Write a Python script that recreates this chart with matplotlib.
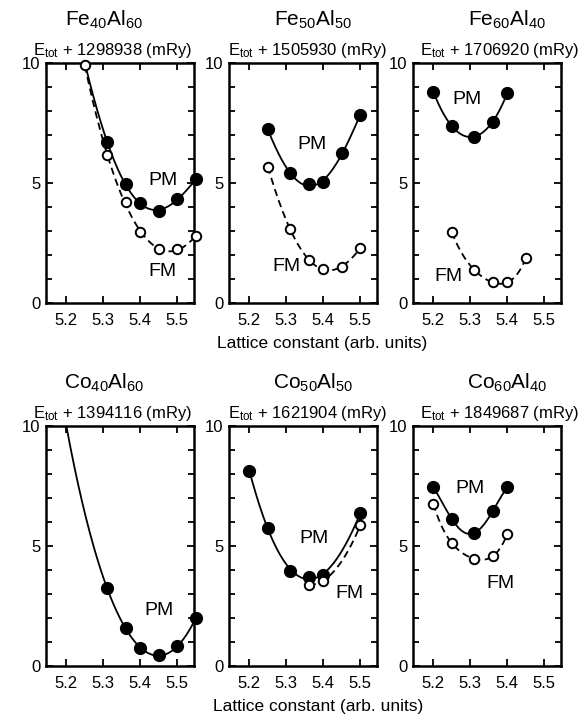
import numpy as np
import matplotlib
matplotlib.use("Agg")
import matplotlib.pyplot as plt
from matplotlib.ticker import MultipleLocator

plt.rcParams["font.family"] = ["Liberation Sans", "DejaVu Sans"]
plt.rcParams["mathtext.fontset"] = "custom"
plt.rcParams["mathtext.rm"] = "Liberation Sans"
plt.rcParams["mathtext.it"] = "Liberation Sans:italic"

# ---- data ----
titles = ["Fe$_{40}$Al$_{60}$", "Fe$_{50}$Al$_{50}$", "Fe$_{60}$Al$_{40}$",
          "Co$_{40}$Al$_{60}$", "Co$_{50}$Al$_{50}$", "Co$_{60}$Al$_{40}$"]
offsets = ["1298938", "1505930", "1706920", "1394116", "1621904", "1849687"]

# Fe40Al60
fe40_pm_x = [5.25, 5.31, 5.36, 5.40, 5.45, 5.50, 5.55]
fe40_pm_y = [10.0, 6.72, 4.94, 4.16, 3.85, 4.33, 5.15]
fe40_fm_x = [5.25, 5.31, 5.36, 5.40, 5.45, 5.50, 5.55]
fe40_fm_y = [9.90, 6.16, 4.20, 2.95, 2.24, 2.24, 2.80]
# Fe50Al50
fe50_pm_x = [5.25, 5.31, 5.36, 5.40, 5.45, 5.50]
fe50_pm_y = [7.23, 5.40, 4.94, 5.06, 6.23, 7.85]
fe50_fm_x = [5.25, 5.31, 5.36, 5.40, 5.45, 5.50]
fe50_fm_y = [5.68, 3.09, 1.80, 1.41, 1.52, 2.29]
# Fe60Al40
fe60_pm_x = [5.20, 5.25, 5.31, 5.36, 5.40]
fe60_pm_y = [8.80, 7.37, 6.93, 7.55, 8.75]
fe60_fm_x = [5.25, 5.31, 5.36, 5.40, 5.45]
fe60_fm_y = [2.95, 1.39, 0.86, 0.86, 1.87]
# Co40Al60
co40_pm_x = [5.20, 5.31, 5.36, 5.40, 5.45, 5.50, 5.55]
co40_pm_y = [10.0, 3.25, 1.57, 0.76, 0.44, 0.82, 2.00]
co40_fm_x = []
co40_fm_y = []
# Co50Al50
co50_pm_x = [5.20, 5.25, 5.31, 5.36, 5.40, 5.50]
co50_pm_y = [8.13, 5.75, 3.97, 3.70, 3.81, 6.37]
co50_fm_x = [5.36, 5.40, 5.50]
co50_fm_y = [3.39, 3.56, 5.86]
# Co60Al40
co60_pm_x = [5.20, 5.25, 5.31, 5.36, 5.40]
co60_pm_y = [7.44, 6.12, 5.54, 6.44, 7.44]
co60_fm_x = [5.20, 5.25, 5.31, 5.36, 5.40]
co60_fm_y = [6.76, 5.12, 4.47, 4.57, 5.51]

pm_sets = [(fe40_pm_x, fe40_pm_y), (fe50_pm_x, fe50_pm_y), (fe60_pm_x, fe60_pm_y),
           (co40_pm_x, co40_pm_y), (co50_pm_x, co50_pm_y), (co60_pm_x, co60_pm_y)]
fm_sets = [(fe40_fm_x, fe40_fm_y), (fe50_fm_x, fe50_fm_y), (fe60_fm_x, fe60_fm_y),
           (co40_fm_x, co40_fm_y), (co50_fm_x, co50_fm_y), (co60_fm_x, co60_fm_y)]

# label positions (data coords), None = no label
pm_label = [(5.46, 5.1), (5.37, 6.6), (5.29, 8.5), (5.45, 2.3), (5.375, 5.3), (5.30, 7.4)]
fm_label = [(5.46, 1.3), (5.30, 1.5), (5.24, 1.1), None, (5.47, 3.0), (5.38, 3.45)]

# axes layout in pixels (580 x 717)
W, H = 580, 717
col_left = [46, 229, 413]
col_w = 148
row_top = [63, 426]
row_h = 240
title_x = [0.39, 0.57, 0.635]
sub_x = [0.45, 0.53, 0.585]


def smooth(ax, x, y, style):
    x = np.asarray(x)
    y = np.asarray(y)
    deg = min(4, len(x) - 1)
    c = np.polyfit(x, y, deg)
    xs = np.linspace(x[0], x[-1], 200)
    ln, = ax.plot(xs, np.polyval(c, xs), style, color="black", lw=1.3, zorder=2)
    if style == "--":
        ln.set_dashes((4, 2.5))


fig = plt.figure(figsize=(W / 100, H / 100), dpi=100)

for i in range(6):
    r, c = divmod(i, 3)
    ax = fig.add_axes([col_left[c] / W, 1 - (row_top[r] + row_h) / H,
                       col_w / W, row_h / H])
    ax.set_xlim(5.145, 5.545)
    ax.set_ylim(0, 10)

    px, py = pm_sets[i]
    if len(px):
        smooth(ax, px, py, "-")
        m = np.asarray(py) < 10
        ax.plot(np.asarray(px)[m], np.asarray(py)[m], "o", color="black",
                ms=8.5, clip_on=False, zorder=3)
    fx, fy = fm_sets[i]
    if len(fx):
        smooth(ax, fx, fy, "--")
        ax.plot(fx, fy, "o", mfc="white", mec="black", mew=1.4, ms=6.8,
                clip_on=False, zorder=4)

    if pm_label[i]:
        ax.text(*pm_label[i], "PM", fontsize=14, ha="center", va="center")
    if fm_label[i]:
        ax.text(*fm_label[i], "FM", fontsize=14, ha="center", va="center")

    ax.yaxis.set_major_locator(MultipleLocator(5))
    ax.yaxis.set_minor_locator(MultipleLocator(1))
    ax.set_xticks([5.2, 5.3, 5.4, 5.5])
    ax.set_xticklabels(["5.2", "5.3", "5.4", "5.5"])
    ax.tick_params(which="both", direction="in", top=True, right=True,
                   width=1.3, labelsize=12)
    ax.tick_params(axis="x", which="major", length=5, pad=7)
    ax.tick_params(axis="y", which="major", length=5, pad=4)
    ax.tick_params(which="minor", length=4)
    for s in ax.spines.values():
        s.set_linewidth(1.8)

    ax.text(title_x[c], 1.155, titles[i], transform=ax.transAxes,
            ha="center", va="baseline", fontsize=15)
    ax.text(sub_x[c], 1.035, r"E$_{\rm tot}$ + " + offsets[i] + " (mRy)",
            transform=ax.transAxes, ha="center", va="baseline", fontsize=12)

fig.text(322 / W, 1 - 343 / H, "Lattice constant (arb. units)",
         ha="center", va="center", fontsize=12.5)
fig.text(318 / W, 1 - 707 / H, "Lattice constant (arb. units)",
         ha="center", va="center", fontsize=12.5)

fig.savefig("out.png", dpi=100)
